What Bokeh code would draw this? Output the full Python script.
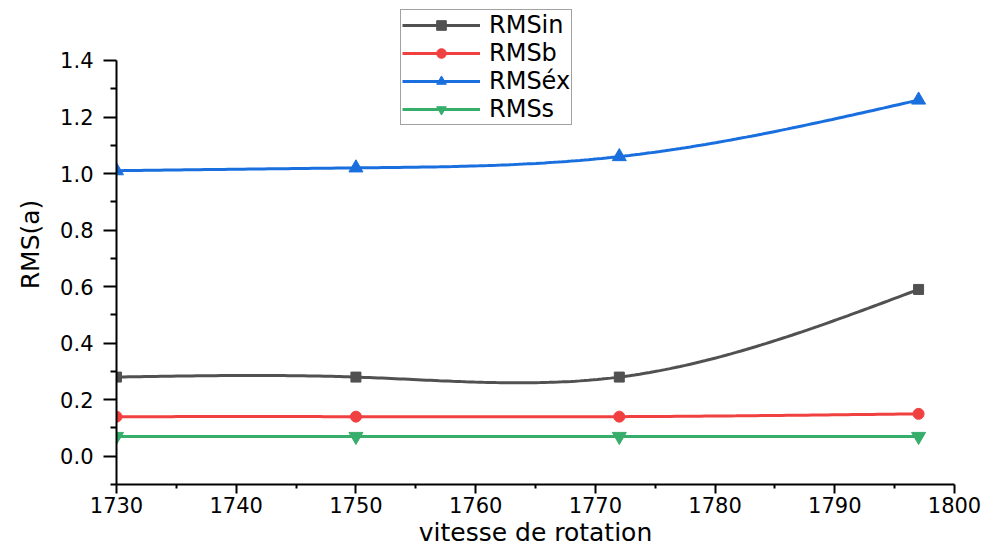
import numpy as np
from bokeh.plotting import figure
from bokeh.models import FixedTicker, PrintfTickFormatter, Legend, LegendItem, Range1d
from bokeh.embed import file_html
from bokeh.resources import INLINE

# ---- data ----
x_speed = [1730, 1750, 1772, 1797]
rms_in = [0.28, 0.28, 0.28, 0.59]
rms_b = [0.14, 0.14, 0.14, 0.15]
rms_ex = [1.01, 1.02, 1.06, 1.26]
rms_s = [0.07, 0.07, 0.07, 0.07]

series_names = ["RMSin", "RMSb", "RMSéx", "RMSs"]
x_ticks = [1730, 1740, 1750, 1760, 1770, 1780, 1790, 1800]
x_minor = [1735, 1745, 1755, 1765, 1775, 1785, 1795]
y_ticks = [0.0, 0.2, 0.4, 0.6, 0.8, 1.0, 1.2, 1.4]
y_minor = [-0.1, 0.1, 0.3, 0.5, 0.7, 0.9, 1.1, 1.3]

colors = ["#515151", "#F14040", "#1A6FDF", "#37AD6B"]
markers = ["square", "circle", "triangle", "inverted_triangle"]
msizes = [10, 11, 14, 14]


def spline_path(xs, ys, n=60):
    """Natural cubic spline drawn through the data points (line rendering only)."""
    xs = np.asarray(xs, float)
    ys = np.asarray(ys, float)
    k = len(xs)
    h = np.diff(xs)
    A = np.zeros((k, k))
    r = np.zeros(k)
    A[0, 0] = 1
    A[-1, -1] = 1
    for i in range(1, k - 1):
        A[i, i - 1] = h[i - 1]
        A[i, i] = 2 * (h[i - 1] + h[i])
        A[i, i + 1] = h[i]
        r[i] = 6 * ((ys[i + 1] - ys[i]) / h[i] - (ys[i] - ys[i - 1]) / h[i - 1])
    M = np.linalg.solve(A, r)
    px, py = [], []
    for i in range(k - 1):
        t = np.linspace(xs[i], xs[i + 1], n, endpoint=(i == k - 2))
        a = xs[i + 1] - t
        b = t - xs[i]
        s = (M[i] * a ** 3 / (6 * h[i]) + M[i + 1] * b ** 3 / (6 * h[i])
             + (ys[i] / h[i] - M[i] * h[i] / 6) * a
             + (ys[i + 1] / h[i] - M[i + 1] * h[i] / 6) * b)
        px.extend(t.tolist())
        py.extend(s.tolist())
    return px, py


# frame spans y=4..484 px; the axis itself is bounded to -0.1..1.4 (y=60..484)
p = figure(width=989, height=550, output_backend="svg", toolbar_location=None,
           x_range=Range1d(1730, 1800), y_range=Range1d(-0.1, 1.598),
           min_border_left=116, min_border_right=35, min_border_top=4,
           min_border_bottom=66)
p.outline_line_color = None
p.xgrid.visible = False
p.ygrid.visible = False
p.background_fill_color = "white"
p.border_fill_color = "white"

FONT = "DejaVu Sans"

items = []
for name, ys, c, m, ms in zip(series_names, [rms_in, rms_b, rms_ex, rms_s], colors, markers, msizes):
    sx, sy = spline_path(x_speed, ys)
    r1 = p.line(sx, sy, line_color=c, line_width=3)
    r2 = p.scatter(x_speed, ys, marker=m, size=ms, fill_color=c, line_color=c)
    items.append(LegendItem(label=name, renderers=[r1, r2]))

# axes
for ax in (p.xaxis[0], p.yaxis[0]):
    ax.axis_line_width = 2
    ax.axis_line_color = "black"
    ax.major_tick_line_width = 2
    ax.minor_tick_line_width = 2
    ax.major_tick_line_color = "black"
    ax.minor_tick_line_color = "black"
    ax.major_tick_in = 0
    ax.minor_tick_in = 0
    ax.major_label_text_font = FONT
    ax.major_label_text_font_size = "21px"
    ax.major_label_text_color = "black"
    ax.axis_label_text_font = FONT
    ax.axis_label_text_font_style = "normal"
    ax.axis_label_text_color = "black"

p.xaxis[0].ticker = FixedTicker(ticks=x_ticks, minor_ticks=x_minor)
p.yaxis[0].ticker = FixedTicker(ticks=y_ticks, minor_ticks=y_minor)
p.yaxis[0].formatter = PrintfTickFormatter(format="%.1f")
p.yaxis[0].bounds = (-0.1, 1.4)

p.xaxis[0].major_tick_out = 9
p.xaxis[0].minor_tick_out = 4
p.yaxis[0].major_tick_out = 13
p.yaxis[0].minor_tick_out = 6

p.xaxis[0].axis_label = "vitesse de rotation"
p.xaxis[0].axis_label_text_font_size = "25px"
p.xaxis[0].major_label_standoff = 3
p.xaxis[0].axis_label_standoff = 2

p.yaxis[0].axis_label = "RMS(a)"
p.yaxis[0].axis_label_text_font_size = "25px"
p.yaxis[0].major_label_standoff = 10
p.yaxis[0].axis_label_standoff = 12

legend = Legend(items=items, location=(284, 359))
legend.label_text_font = FONT
legend.label_text_font_size = "24px"
legend.label_text_color = "black"
legend.glyph_width = 78
legend.glyph_height = 24
legend.label_height = 24
legend.label_standoff = 9
legend.spacing = 0
legend.padding = 1
legend.margin = 0
legend.border_line_color = "#444444"
legend.border_line_width = 1
legend.background_fill_color = "white"
legend.background_fill_alpha = 1
p.add_layout(legend, "center")

open("out.html", "w").write(file_html(p, INLINE))
